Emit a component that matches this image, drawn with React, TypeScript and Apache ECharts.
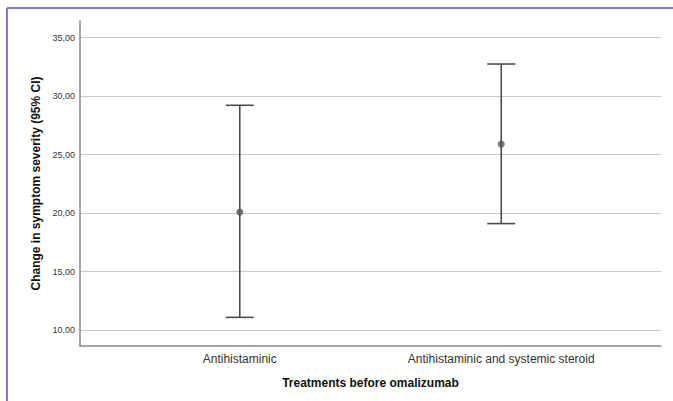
import React, { useEffect, useRef } from "react";
import * as echarts from "echarts";

const categories = ["Antihistaminic", "Antihistaminic and systemic steroid"];
const means = [20.08, 25.9];
const lowerCI = [11.08, 19.1];
const upperCI = [29.22, 32.75];
const yTicks = [10, 15, 20, 25, 30, 35];

export default function App() {
  const ref = useRef<HTMLDivElement>(null);
  useEffect(() => {
    if (!ref.current) return;
    const chart = echarts.init(ref.current, undefined, { renderer: "svg" });
    const barData = categories.map((_, i) => [i + 1, lowerCI[i], upperCI[i]]);
    const pointData = categories.map((_, i) => [i + 1, means[i]]);
    chart.setOption({
      animation: false,
      backgroundColor: "#ffffff",
      grid: { left: 80, right: 12, top: 21, bottom: 55, containLabel: false },
      xAxis: {
        type: "value",
        min: 0.389,
        max: 2.611,
        axisLine: { show: true, lineStyle: { color: "#888888", width: 1.5 } },
        axisTick: { show: false, customValues: [1, 2] },
        splitLine: { show: false },
        axisLabel: {
          customValues: [1, 2],
          formatter: (v: number) => categories[Math.round(v) - 1] || "",
          color: "#333333",
          fontSize: 12,
          fontFamily: "Liberation Sans, Arial, sans-serif",
          margin: 7,
        },
        name: "Treatments before omalizumab",
        nameLocation: "middle",
        nameGap: 31,
        nameTextStyle: {
          fontWeight: "bold",
          fontSize: 12,
          color: "#111111",
          fontFamily: "Liberation Sans, Arial, sans-serif",
        },
      },
      yAxis: {
        type: "value",
        min: 8.63,
        max: 36.43,
        axisLine: { show: true, lineStyle: { color: "#888888", width: 1.5 } },
        axisTick: { show: false, customValues: yTicks },
        axisLabel: {
          customValues: yTicks,
          formatter: (v: number) => v.toFixed(2).replace(".", ","),
          color: "#333333",
          fontSize: 9,
          fontFamily: "Liberation Sans, Arial, sans-serif",
          margin: 5,
        },
        splitLine: { show: true, lineStyle: { color: "#c8c8c8", width: 1 } },
        name: "Change in symptom severity (95% CI)",
        nameLocation: "middle",
        nameGap: 36,
        nameTextStyle: {
          fontWeight: "bold",
          fontSize: 12,
          color: "#111111",
          fontFamily: "Liberation Sans, Arial, sans-serif",
        },
      },
      graphic: [
        {
          type: "line",
          shape: { x1: 7, y1: 8, x2: 673, y2: 8 },
          style: { stroke: "#8f74c8", lineWidth: 2 },
        },
        {
          type: "line",
          shape: { x1: 7, y1: 8, x2: 7, y2: 401 },
          style: { stroke: "#8f74c8", lineWidth: 2 },
        },
      ],
      series: [
        {
          type: "custom",
          data: barData,
          renderItem: (params: any, api: any) => {
            const x = api.value(0);
            const lo = api.coord([x, api.value(1)]);
            const hi = api.coord([x, api.value(2)]);
            const hw = 14;
            const style = { stroke: "#4d4d4d", lineWidth: 1.6 };
            return {
              type: "group",
              children: [
                { type: "line", shape: { x1: lo[0], y1: lo[1], x2: hi[0], y2: hi[1] }, style },
                { type: "line", shape: { x1: hi[0] - hw, y1: hi[1], x2: hi[0] + hw, y2: hi[1] }, style },
                { type: "line", shape: { x1: lo[0] - hw, y1: lo[1], x2: lo[0] + hw, y2: lo[1] }, style },
              ],
            };
          },
          z: 3,
        },
        {
          type: "scatter",
          data: pointData,
          symbol: "circle",
          symbolSize: 7,
          itemStyle: { color: "#555555" },
          z: 4,
        },
      ],
    });
    return () => chart.dispose();
  }, []);
  return (
    <div
      ref={ref}
      style={{ position: "absolute", left: 0, top: 0, width: 673, height: 401 }}
    />
  );
}
